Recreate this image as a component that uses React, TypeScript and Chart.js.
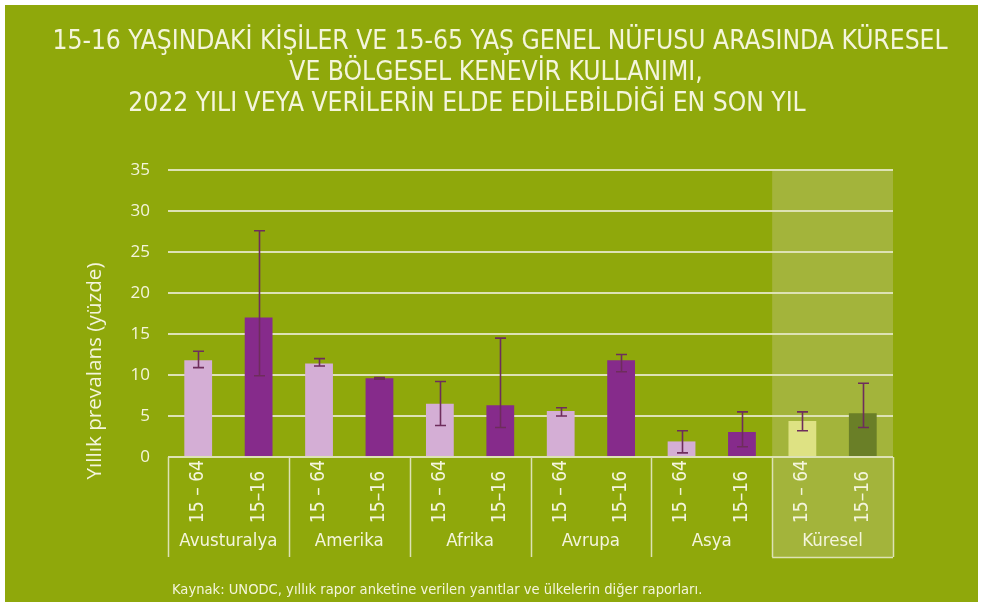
import React, { useEffect, useRef } from "react";
import { Chart, registerables } from "chart.js";

Chart.register(...registerables);

const titleLines = [
  "15-16 YAŞINDAKİ KİŞİLER VE 15-65 YAŞ GENEL NÜFUSU ARASINDA KÜRESEL",
  "VE BÖLGESEL KENEVİR KULLANIMI,",
  "2022 YILI VEYA VERİLERİN ELDE EDİLEBİLDİĞİ EN SON YIL",
];
const regions = ["Avusturalya", "Amerika", "Afrika", "Avrupa", "Asya", "Küresel"];
const ageLabels = ["15 – 64", "15–16"];
const adultValues = [11.8, 11.4, 6.5, 5.6, 1.9, 4.4];
const adultLow = [10.9, 11.1, 3.85, 5.0, 0.5, 3.2];
const adultHigh = [12.9, 12.0, 9.2, 6.0, 3.2, 5.5];
const youthValues = [17.0, 9.6, 6.3, 11.8, 3.05, 5.35];
const youthLow = [9.9, 9.5, 3.6, 10.4, 1.25, 3.6];
const youthHigh = [27.6, 9.7, 14.5, 12.5, 5.5, 9.0];
const yTicks = [0, 5, 10, 15, 20, 25, 30, 35];
const yTitle = "Yıllık prevalans (yüzde)";
const sourceNote = "Kaynak: UNODC, yıllık rapor anketine verilen yanıtlar ve ülkelerin diğer raporları.";

const BG = "#8fa80b";
const SHADE = "#a3b43b";
const TEXT = "#f4f5dc";
const GRID = "#dde2b4";
const PINK = "#d4aed5";
const PURPLE = "#862b8b";
const GLOBAL_ADULT = "#dee283";
const GLOBAL_YOUTH = "#6a7f27";
const ERR = "#6e2d5c";
const COND = "'DejaVu Sans Condensed', 'Liberation Sans Narrow', sans-serif";
const HUMAN = "'Open Sans', sans-serif";

export default function App() {
  const ref = useRef<HTMLCanvasElement>(null);

  useEffect(() => {
    const labels: string[] = [];
    const values: number[] = [];
    const lows: number[] = [];
    const highs: number[] = [];
    const colors: string[] = [];
    regions.forEach((r, i) => {
      const global = i === regions.length - 1;
      labels.push(r + " " + ageLabels[0]);
      values.push(adultValues[i]);
      lows.push(adultLow[i]);
      highs.push(adultHigh[i]);
      colors.push(global ? GLOBAL_ADULT : PINK);
      labels.push(r + " " + ageLabels[1]);
      values.push(youthValues[i]);
      lows.push(youthLow[i]);
      highs.push(youthHigh[i]);
      colors.push(global ? GLOBAL_YOUTH : PURPLE);
    });

    const labelAreaBottom = 552;

    const decor = {
      id: "decor",
      beforeDraw(chart: any) {
        const { ctx, chartArea, scales } = chart;
        const x = scales.x;
        const n = labels.length;
        const x0 = x.getPixelForValue(n - 2.5);
        const x1 = x.getPixelForValue(n - 0.5);
        ctx.save();
        ctx.fillStyle = SHADE;
        ctx.fillRect(x0, chartArea.top, x1 - x0, labelAreaBottom - chartArea.top);
        ctx.restore();
      },
      afterDatasetsDraw(chart: any) {
        const { ctx, scales } = chart;
        const meta = chart.getDatasetMeta(0);
        ctx.save();
        ctx.strokeStyle = ERR;
        ctx.lineWidth = 1.6;
        meta.data.forEach((el: any, i: number) => {
          const yl = scales.y.getPixelForValue(lows[i]);
          const yh = scales.y.getPixelForValue(highs[i]);
          const cx = Math.round(el.x) + 0.5;
          ctx.beginPath();
          ctx.moveTo(cx, yl);
          ctx.lineTo(cx, yh);
          ctx.moveTo(cx - 5.5, yl);
          ctx.lineTo(cx + 5.5, yl);
          ctx.moveTo(cx - 5.5, yh);
          ctx.lineTo(cx + 5.5, yh);
          ctx.stroke();
        });
        ctx.restore();
      },
      afterDraw(chart: any) {
        const { ctx, chartArea, scales } = chart;
        const x = scales.x;
        ctx.save();
        // title
        ctx.fillStyle = TEXT;
        ctx.textBaseline = "middle";
        ctx.textAlign = "center";
        ctx.font = `26.2px ${COND}`;
        const titleCenters = [495, 491, 462];
        const titleYs = [37, 68, 99];
        titleLines.forEach((t, i) => ctx.fillText(t, titleCenters[i], titleYs[i]));

        // y axis title
        ctx.save();
        ctx.translate(90, 366);
        ctx.rotate(-Math.PI / 2);
        ctx.font = `20.7px ${HUMAN}`;
        ctx.fillText(yTitle, 0, 0);
        ctx.restore();

        // separators
        ctx.strokeStyle = GRID;
        ctx.lineWidth = 1.5;
        for (let g = 0; g <= regions.length; g++) {
          const px = Math.round(x.getPixelForValue(g * 2 - 0.5)) + 0.5;
          ctx.beginPath();
          ctx.moveTo(px, chartArea.bottom);
          ctx.lineTo(px, labelAreaBottom);
          ctx.stroke();
        }
        // box bottom for global
        const gx0 = x.getPixelForValue(labels.length - 2.5);
        const gx1 = x.getPixelForValue(labels.length - 0.5);
        ctx.beginPath();
        ctx.moveTo(gx0, labelAreaBottom + 0.5);
        ctx.lineTo(gx1, labelAreaBottom + 0.5);
        ctx.stroke();

        // tick labels (rotated)
        ctx.fillStyle = TEXT;
        ctx.font = `19px ${COND}`;
        labels.forEach((_, i) => {
          const px = x.getPixelForValue(i);
          ctx.save();
          ctx.translate(px, 518);
          ctx.rotate(-Math.PI / 2);
          ctx.textAlign = "left";
          ctx.textBaseline = "middle";
          ctx.fillText(ageLabels[i % 2], 0, 0);
          ctx.restore();
        });
        // group labels
        ctx.textAlign = "center";
        ctx.textBaseline = "middle";
        ctx.font = `18.5px ${COND}`;
        regions.forEach((r, g) => {
          const px = x.getPixelForValue(g * 2 + 0.5);
          ctx.fillText(r, px, 536);
        });
        // source
        ctx.textAlign = "left";
        ctx.font = `14.6px ${COND}`;
        ctx.fillText(sourceNote, 167, 585);
        ctx.restore();
      },
    };

    const chart = new Chart(ref.current as HTMLCanvasElement, {
      type: "bar",
      data: {
        labels,
        datasets: [
          {
            data: values,
            backgroundColor: colors,
            borderWidth: 0,
            categoryPercentage: 1,
            barPercentage: 0.46,
          },
        ],
      },
      options: {
        animation: false,
        responsive: false,
        layout: { padding: { left: 0, right: 85, top: 165, bottom: 145 } },
        plugins: { legend: { display: false }, title: { display: false }, tooltip: { enabled: false } },
        scales: {
          x: { display: false },
          y: {
            min: 0,
            max: 35,
            afterFit: (s: any) => {
              s.width = 163;
            },
            afterBuildTicks: (s: any) => {
              s.ticks = yTicks.map((v) => ({ value: v }));
            },
            border: { display: false },
            grid: { color: GRID, lineWidth: 2, drawTicks: false },
            ticks: {
              color: TEXT,
              padding: 18,
              font: { family: "'Open Sans', sans-serif", size: 17 },
            },
          },
        },
      },
      plugins: [decor],
    });
    return () => chart.destroy();
  }, []);

  return (
    <div style={{ position: "fixed", left: 0, top: 0, width: 985, height: 602, background: "#ffffff" }}>
      <div style={{ position: "absolute", left: 5, top: 5, width: 973, height: 597, background: BG }}>
        <canvas ref={ref} width={973} height={597} style={{ display: "block" }} />
      </div>
    </div>
  );
}
